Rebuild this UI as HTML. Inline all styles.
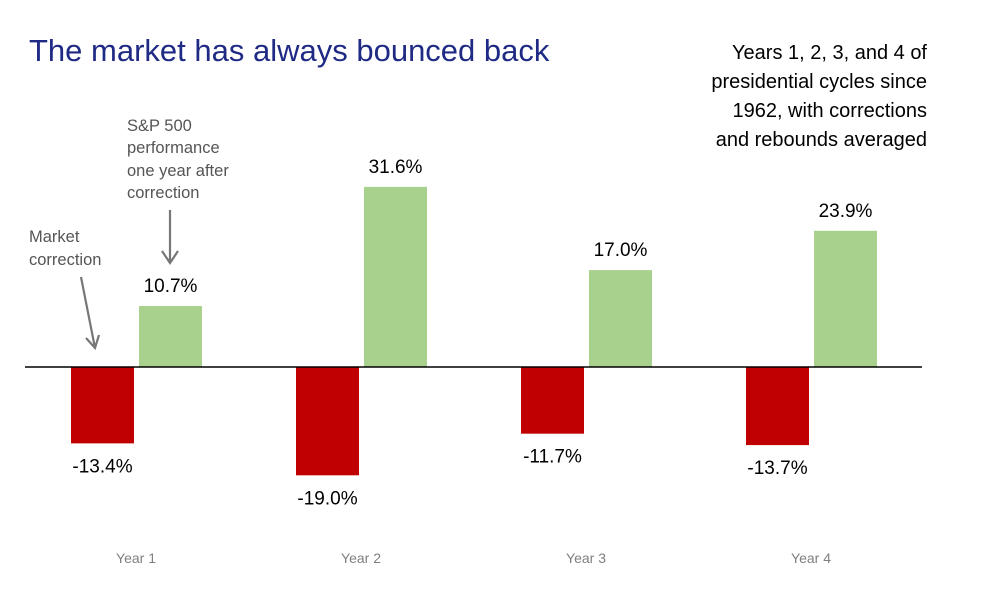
<!DOCTYPE html>
<html><head><meta charset="utf-8"><style>
body{margin:0;background:#fff;}
svg{display:block;font-family:"Liberation Sans",Arial,sans-serif;}
</style></head><body>
<svg id="chart" width="981" height="592" viewBox="0 0 981 592">
<text x="29" y="61" font-size="31" fill="#1f2a85">The market has always bounced back</text>
<g font-size="20" fill="#000" text-anchor="end">
<text x="927" y="59">Years 1, 2, 3, and 4 of</text>
<text x="927" y="88">presidential cycles since</text>
<text x="927" y="117">1962, with corrections</text>
<text x="927" y="146">and rebounds averaged</text>
</g>
<g font-size="16.5" fill="#555">
<text x="127" y="131">S&amp;P 500</text>
<text x="127" y="153">performance</text>
<text x="127" y="176">one year after</text>
<text x="127" y="198">correction</text>
</g>
<g font-size="16.5" fill="#555">
<text x="29" y="242">Market</text>
<text x="29" y="265">correction</text>
</g>
<g stroke="#777" stroke-width="2.2" fill="none">
<path d="M170 210 L170 263 M162 251 L170 263 L178 251"/>
<path d="M81 277 L95 348 M86 338 L95 348 L99 335"/>
</g>
<g id="bars"></g>
<line x1="25" y1="367" x2="922" y2="367" stroke="#000" stroke-width="1.5"/>
</svg>
<script>
const categories = ["Year 1","Year 2","Year 3","Year 4"];
const corrections = [-13.4,-19.0,-11.7,-13.7];
const rebounds = [10.7,31.6,17.0,23.9];
const correctionLabels = ["-13.4%","-19.0%","-11.7%","-13.7%"];
const reboundLabels = ["10.7%","31.6%","17.0%","23.9%"];

const y0 = 367, pxPer = 5.7;
function y(v){ return y0 - v*pxPer; }
function groupX(i){ return 71 + i*225; }
const barW = 63;
const NS = "http://www.w3.org/2000/svg";
const g = document.getElementById('bars');
function mk(tag, attrs){ const e=document.createElementNS(NS,tag); for(const k in attrs) e.setAttribute(k,attrs[k]); g.appendChild(e); return e; }

categories.forEach((c,i)=>{
  const x = groupX(i);
  const cv = corrections[i], rv = rebounds[i];
  const rb = mk('rect',{x:x,y:y0,width:barW,height:y(cv)-y0,fill:'#c00000'});
  
  
  const gb = mk('rect',{x:x+68,y:y(rv),width:barW,height:y0-y(rv),fill:'#a9d18e'});
  
  
  const cl = mk('text',{x:x+barW/2,y:y(cv)+29,'font-size':19,'text-anchor':'middle',fill:'#000'});
  cl.textContent = correctionLabels[i];
  
  
  const rl = mk('text',{x:x+68+barW/2,y:y(rv)-14,'font-size':19,'text-anchor':'middle',fill:'#000'});
  rl.textContent = reboundLabels[i];
  
  
  const xl = mk('text',{x:x+65,y:563,'font-size':14,'text-anchor':'middle',fill:'#7f7f7f'});
  xl.textContent = c;
  
  
});
</script>
</body></html>
